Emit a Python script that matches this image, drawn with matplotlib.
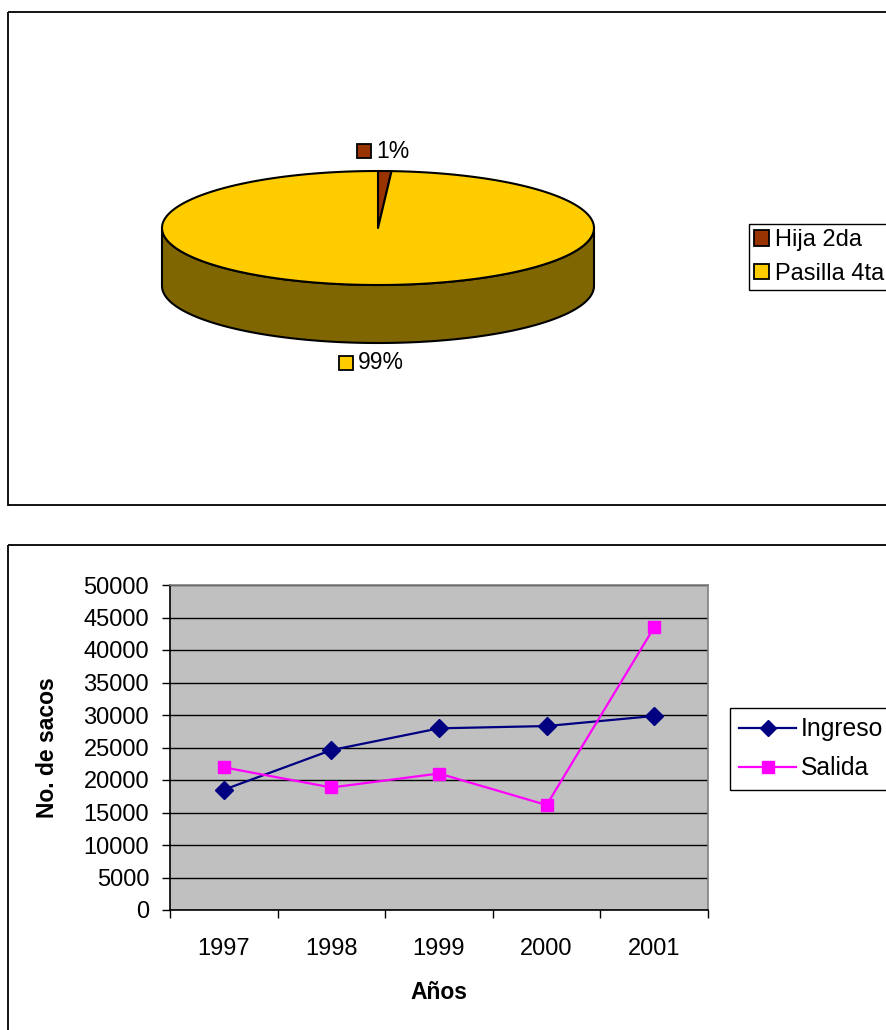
"""Two panel sheet: 3D pie of bag share and yearly bag in/out line chart."""

import matplotlib.pyplot as plt
import numpy as np
from matplotlib.lines import Line2D
from matplotlib.patches import Patch, Polygon, Rectangle

plt.rcParams["font.family"] = ["Liberation Sans", "DejaVu Sans"]

# ## Data ###
pie_labels = ["Hija 2da", "Pasilla 4ta"]
pie_share = [1, 99]  # %
pie_colors = ["#993300", "#FFCC00"]

years = ["1997", "1998", "1999", "2000", "2001"]
ingreso = [18500, 24600, 27950, 28300, 29850]
salida = [21950, 18850, 21000, 16150, 43500]

FS = 17  # base font size

W, H = 886, 1030
fig = plt.figure(figsize=(W / 100, H / 100), dpi=100)

# background axes in pixel units (y down) for frames and the pie
bg = fig.add_axes([0, 0, 1, 1])
bg.set_xlim(0, W)
bg.set_ylim(H, 0)
bg.axis("off")

bg.add_patch(Rectangle((8.5, 12), 900, 493, fill=False, ec="black", lw=1.3))
bg.add_patch(Rectangle((8.5, 545), 900, 500, fill=False, ec="black", lw=1.3))

### 3D pie ###
cx, cy, a, b, depth = 378, 228, 216, 57, 58


def ell(theta_deg, dy=0.0):
    t = np.radians(theta_deg)
    return np.column_stack([cx + a * np.cos(t), cy - b * np.sin(t) + dy])


def darker(hexcol, f=0.5):
    r, g, bb = (int(hexcol[i:i + 2], 16) for i in (1, 3, 5))
    return "#%02x%02x%02x" % (int(r * f), int(g * f), int(bb * f))


fractions = np.array(pie_share, dtype=float) / np.sum(pie_share)
start = 90.0
slices = []
for frac in fractions:
    end = start - 360 * frac
    slices.append((start, end))
    start = end

# side walls: only the front half (angles 180..360) is visible
for (s, e), col in zip(slices, pie_colors):
    lo, hi = e, s
    for shift in (-360, 0, 360):
        a0 = max(lo, 180 + shift)
        a1 = min(hi, 360 + shift)
        if a1 > a0:
            th = np.linspace(a0, a1, 200)
            top = ell(th)
            bot = ell(th[::-1], depth)
            bg.add_patch(Polygon(np.vstack([top, bot]), closed=True,
                                 fc=darker(col), ec="black", lw=1.5, zorder=2))

# top faces
for (s, e), col in zip(slices, pie_colors):
    th = np.linspace(s, e, 400)
    pts = np.vstack([[cx, cy], ell(th)])
    bg.add_patch(Polygon(pts, closed=True, fc=col, ec="black", lw=1.5,
                         joinstyle="round", zorder=3))

# percentage labels with colour keys
for (s, e), col, pct in zip(slices, pie_colors, pie_share):
    mid = np.radians((s + e) / 2)
    lx = cx + a * 1.35 * np.cos(mid)
    ly = cy - b * 1.35 * np.sin(mid)
    if np.sin(mid) < 0:
        ly += depth
    bg.add_patch(Rectangle((lx - 30, ly - 7), 14, 14, fc=col, ec="black",
                           lw=1.3, zorder=4))
    bg.text(lx - 11, ly, f"{pct}%", fontsize=FS - 0.5, ha="left",
            va="center", zorder=4)

pie_handles = [Patch(fc=c, ec="black", lw=1.3) for c in pie_colors]
fig.legend(pie_handles, pie_labels, loc="upper left",
           bbox_to_anchor=(749 / W, 1 - 224 / H), fontsize=FS,
           frameon=True, fancybox=False, edgecolor="black", framealpha=1,
           handlelength=0.62, handleheight=0.62, handletextpad=0.25,
           borderpad=0.22, labelspacing=0.5, borderaxespad=0)

### Line chart ###
ax = fig.add_axes([170 / W, 1 - 910 / H, 538 / W, 325 / H])
x = np.arange(len(years))
ax.set_facecolor("#C0C0C0")
ax.plot(x, ingreso, color="#000080", lw=1.6, marker="D", ms=9,
        label="Ingreso", zorder=3)
ax.plot(x, salida, color="#FF00FF", lw=1.6, marker="s", ms=9,
        label="Salida", zorder=3)

ax.set_xlim(-0.5, len(years) - 0.5)
ax.set_ylim(0, 50000)
ax.set_yticks(np.arange(0, 50001, 5000))
ax.yaxis.grid(True, color="black", lw=1)
ax.set_axisbelow(True)

ax.set_xticks(np.arange(-0.5, len(years), 1))
ax.set_xticklabels([])
ax.set_xticks(x, minor=True)
ax.set_xticklabels(years, minor=True)
ax.tick_params(axis="x", which="major", length=6, width=1, direction="out")
ax.tick_params(axis="x", which="minor", length=0, pad=20, labelsize=FS)
ax.tick_params(axis="y", length=6, width=1, direction="out", pad=9,
               labelsize=FS)

for side in ("top", "right"):
    ax.spines[side].set_color("#808080")
for side in ("left", "bottom"):
    ax.spines[side].set_color("black")
for sp in ax.spines.values():
    sp.set_linewidth(1.2)

ax.set_xlabel("Años", fontsize=FS - 0.5, fontweight="bold", va="center")
ax.xaxis.set_label_coords(0.5, -(992 - 910) / 325)
ax.set_ylabel("No. de sacos", fontsize=FS - 0.5, fontweight="bold",
              va="center")
ax.yaxis.set_label_coords((48 - 170) / 538, 0.5)

line_handles = [
    Line2D([], [], color="#000080", lw=1.6, marker="D", ms=8),
    Line2D([], [], color="#FF00FF", lw=1.6, marker="s", ms=8),
]
fig.legend(line_handles, ["Ingreso", "Salida"], loc="upper left",
           bbox_to_anchor=(730 / W, 1 - 708 / H), fontsize=FS + 0.8,
           frameon=True, fancybox=False, edgecolor="black", framealpha=1,
           handlelength=2.3, handletextpad=0.2, borderpad=0.38,
           labelspacing=0.6, borderaxespad=0)

plt.savefig("out.png", dpi=100)
